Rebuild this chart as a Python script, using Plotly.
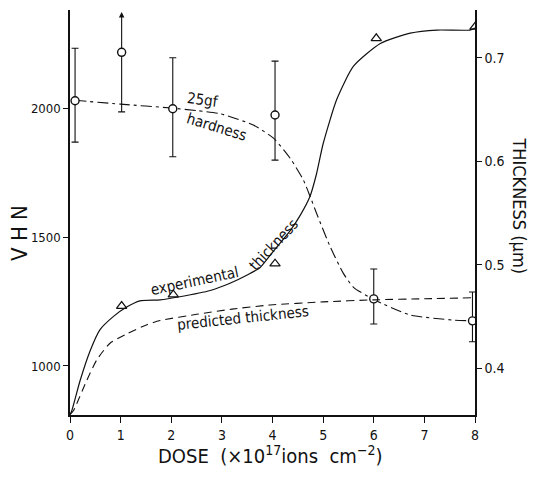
import plotly.graph_objects as go

# ---- data ----
# hardness measurements (left axis, VHN)
hard_dose = [0.1, 1.02, 2.03, 4.05, 6.0, 7.95]
hard_vhn = [2028, 2216, 1997, 1973, 1260, 1175]
hard_err_plus = [204, 0, 198, 209, 116, 112]
hard_err_minus = [160, 231, 186, 175, 97, 81]
arrow_top_vhn = 2372  # upper error of the 1e17 point runs off the chart

# 25gf hardness fitted curve (left axis)
hc_dose = [0.1, 1.0, 2.0, 2.5, 2.96, 3.62, 4.02, 4.35, 4.61, 4.74, 4.87, 5.14, 5.4, 5.6, 6.0, 6.72, 7.57, 7.95]
hc_vhn = [2030, 2015, 2000, 1990, 1978, 1934, 1883, 1805, 1721, 1659, 1592, 1462, 1359, 1305, 1258, 1198, 1178, 1175]

# experimental thickness points (right axis, um)
thk_dose = [1.02, 2.04, 4.05, 6.05, 8.0]
thk_um = [0.460, 0.471, 0.501, 0.719, 0.730]

# experimental thickness curve
ex_dose = [0.0, 0.03, 0.2, 0.4, 0.59, 0.86, 1.12, 1.38, 1.78, 2.17, 2.77, 3.16, 3.5, 3.75, 4.0, 4.35, 4.55, 4.74, 4.87, 5.0, 5.27, 5.6, 6.13, 6.72, 7.25, 7.9, 8.0]
ex_um = [0.355, 0.358, 0.388, 0.417, 0.437, 0.450, 0.459, 0.465, 0.466, 0.469, 0.475, 0.482, 0.490, 0.497, 0.512, 0.533, 0.548, 0.566, 0.588, 0.617, 0.660, 0.692, 0.714, 0.724, 0.727, 0.727, 0.729]

# predicted thickness curve
pr_dose = [0.0, 0.07, 0.33, 0.53, 0.79, 1.12, 1.52, 1.78, 2.5, 3.2, 3.95, 5.0, 6.0, 7.0, 7.95]
pr_um = [0.355, 0.359, 0.388, 0.408, 0.424, 0.433, 0.442, 0.446, 0.452, 0.457, 0.461, 0.464, 0.466, 0.467, 0.468]

x_ticks = [0, 1, 2, 3, 4, 5, 6, 7, 8]
vhn_ticks = [1000, 1500, 2000]
thk_ticks = [0.4, 0.5, 0.6, 0.7]

FONT = "DejaVu Sans Condensed, DejaVu Sans, sans-serif"
INK = "#111111"

fig = go.Figure()

fig.add_trace(go.Scatter(x=hc_dose, y=hc_vhn, mode="lines", yaxis="y",
                         line=dict(color=INK, width=1.1, dash="11px,4px,3px,4px", shape="spline", smoothing=0.6),
                         hoverinfo="skip", showlegend=False))
fig.add_trace(go.Scatter(x=ex_dose, y=ex_um, mode="lines", yaxis="y2",
                         line=dict(color=INK, width=1.2, shape="spline", smoothing=0.6),
                         hoverinfo="skip", showlegend=False))
fig.add_trace(go.Scatter(x=pr_dose, y=pr_um, mode="lines", yaxis="y2",
                         line=dict(color=INK, width=1.1, dash="8px,5px", shape="spline", smoothing=0.6),
                         hoverinfo="skip", showlegend=False))
fig.add_trace(go.Scatter(x=thk_dose, y=thk_um, mode="markers", yaxis="y2",
                         marker=dict(symbol="triangle-up-open", size=9, color=INK, line=dict(width=1.2, color=INK)),
                         showlegend=False))
fig.add_trace(go.Scatter(x=hard_dose, y=hard_vhn, mode="markers", yaxis="y",
                         error_y=dict(type="data", symmetric=False, array=hard_err_plus,
                                      arrayminus=hard_err_minus, color=INK, thickness=1.1, width=3.5),
                         marker=dict(symbol="circle", size=8, color="white", line=dict(width=1.4, color=INK)),
                         showlegend=False))

ann = [
    dict(x=hard_dose[1], y=arrow_top_vhn, xref="x", yref="y", ax=hard_dose[1], ay=hard_vhn[1] + 8,
         axref="x", ayref="y", showarrow=True, arrowhead=2, arrowsize=1, arrowwidth=1.1, arrowcolor=INK, text=""),
    dict(x=2.63, y=2032, xref="x", yref="y", text="25gf", textangle=8, showarrow=False,
         font=dict(family=FONT, size=15, color=INK)),
    dict(x=2.9, y=1928, xref="x", yref="y", text="hardness", textangle=17, showarrow=False,
         font=dict(family=FONT, size=15, color=INK)),
    dict(x=2.47, y=0.484, xref="x", yref="y2", text="experimental", textangle=-12, showarrow=False,
         font=dict(family=FONT, size=15, color=INK)),
    dict(x=4.02, y=0.519, xref="x", yref="y2", text="thickness", textangle=-47, showarrow=False,
         font=dict(family=FONT, size=15, color=INK)),
    dict(x=3.42, y=0.448, xref="x", yref="y2", text="predicted thickness", textangle=-6, showarrow=False,
         font=dict(family=FONT, size=15, color=INK)),
    dict(x=-0.123, y=0.45, xref="paper", yref="paper", text="V H N", textangle=-90, showarrow=False,
         font=dict(family=FONT, size=22, color=INK), xanchor="center", yanchor="middle"),
    dict(x=1.111, y=0.515, xref="paper", yref="paper", text="THICKNESS (μm)", textangle=90, showarrow=False,
         font=dict(family=FONT, size=18, color=INK), xanchor="center", yanchor="middle"),
    dict(x=0.494, y=-0.099, xref="paper", yref="paper",
         text="DOSE  (×10<sup>17</sup>ions  cm<sup>−2</sup>)", showarrow=False,
         font=dict(family=FONT, size=20, color=INK), xanchor="center", yanchor="middle"),
]

# the page body adds an 8px offset, so the figure is 8px smaller than the window
fig.update_layout(
    width=529, height=473,
    margin=dict(l=62, r=62, t=2, b=66),
    paper_bgcolor="white", plot_bgcolor="white",
    font=dict(family=FONT, size=14, color=INK),
    xaxis=dict(range=[0, 8], tickvals=x_ticks, ticks="outside", ticklen=6, tickwidth=1.2, tickcolor=INK,
               showline=True, linecolor=INK, linewidth=1.5, showgrid=False, zeroline=False,
               tickfont=dict(family=FONT, size=14, color=INK)),
    yaxis=dict(range=[810, 2380], tickvals=vhn_ticks, ticks="outside", ticklen=5, tickwidth=1.2, tickcolor=INK,
               showline=True, linecolor=INK, linewidth=1.5, showgrid=False, zeroline=False,
               tickfont=dict(family=FONT, size=13, color=INK)),
    yaxis2=dict(range=[0.3546, 0.7464], tickvals=thk_ticks, overlaying="y", side="right",
                ticks="outside", ticklen=5, tickwidth=1.2, tickcolor=INK,
                showline=True, linecolor=INK, linewidth=1.5, showgrid=False, zeroline=False,
                tickfont=dict(family=FONT, size=14, color=INK)),
    annotations=ann,
)

fig.write_html("out.html")
